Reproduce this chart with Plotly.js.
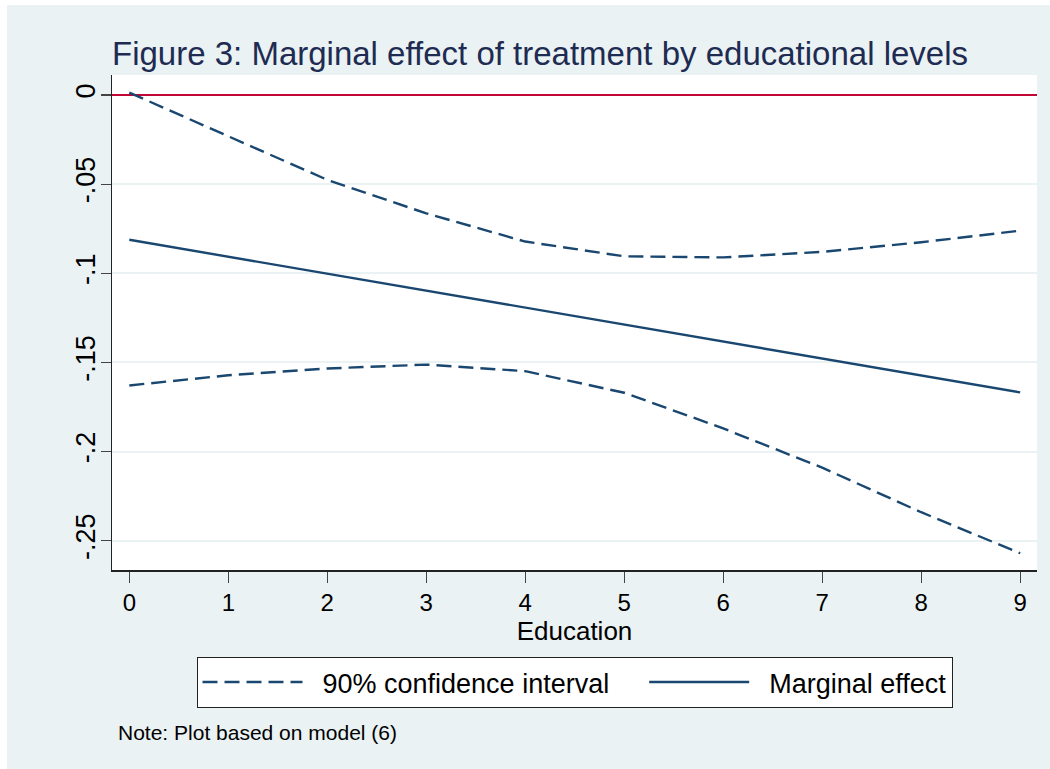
<!DOCTYPE html>
<html>
<head>
<meta charset="utf-8">
<script src="https://cdn.plot.ly/plotly-3.0.1.min.js"></script>
<style>
  html, body { margin: 0; padding: 0; background: #ffffff; }
  #chart { width: 1050px; height: 769px; }
</style>
</head>
<body>
<div id="chart"></div>
<script>
// ---- data ----
var education = [0, 1, 2, 3, 4, 5, 6, 7, 8, 9];
var ciUpper = [0.0013, -0.0233, -0.0476, -0.0664, -0.0822, -0.0905, -0.0911, -0.0880, -0.0826, -0.0761];
var ciLower = [-0.1629, -0.1572, -0.1534, -0.1512, -0.1549, -0.1670, -0.1870, -0.2090, -0.2340, -0.2570];
var marginalEffect = [-0.0812, -0.0907, -0.1002, -0.1097, -0.1192, -0.1288, -0.1383, -0.1478, -0.1573, -0.1668];
var yTickVals = [0, -0.05, -0.1, -0.15, -0.2, -0.25];
var yTickText = ["0", "-.05", "-.1", "-.15", "-.2", "-.25"];
var xTickVals = [0, 1, 2, 3, 4, 5, 6, 7, 8, 9];
var xTickText = ["0", "1", "2", "3", "4", "5", "6", "7", "8", "9"];
var seriesNames = ["90% confidence interval", "Marginal effect"];

var navy = '#1a476f';
var FONT = 'Liberation Sans, Arial, Helvetica, sans-serif';
var NB = '\u00a0';

var traces = [
  {
    x: education, y: ciUpper, type: 'scatter', mode: 'lines',
    name: NB + NB + seriesNames[0] + NB + NB + NB + NB, legendgroup: 'ci',
    line: { color: navy, width: 2.4, dash: '15px,7px' },
    hoverinfo: 'skip'
  },
  {
    x: education, y: ciLower, type: 'scatter', mode: 'lines',
    name: seriesNames[0], legendgroup: 'ci', showlegend: false,
    line: { color: navy, width: 2.4, dash: '15px,7px' },
    hoverinfo: 'skip'
  },
  {
    x: education, y: marginalEffect, type: 'scatter', mode: 'lines',
    name: NB + NB + seriesNames[1],
    line: { color: navy, width: 2.4 },
    hoverinfo: 'skip'
  }
];

var layout = {
  width: 1050, height: 769,
  paper_bgcolor: '#eaf2f3',
  plot_bgcolor: '#ffffff',
  margin: { l: 112, r: 13, t: 75, b: 199, pad: 0 },
  font: { family: FONT, color: '#000000', size: 22 },
  title: {
    text: 'Figure 3: Marginal effect of treatment by educational levels',
    font: { family: FONT, size: 33, color: '#1e2b52' },
    xref: 'paper', x: 0, xanchor: 'left',
    yref: 'container', y: 0.9309, yanchor: 'middle'
  },
  xaxis: {
    range: [-0.175, 9.17],
    tickmode: 'array', tickvals: xTickVals, ticktext: xTickText,
    ticks: 'outside', ticklen: 11, tickwidth: 1.2, tickcolor: '#444444',
    showline: true, linecolor: '#222222', linewidth: 1.5,
    showgrid: false, zeroline: false,
    tickfont: { family: FONT, size: 24, color: '#000000' },
    title: { text: 'Education', font: { family: FONT, size: 26, color: '#000000' }, standoff: 0 }
  },
  yaxis: {
    range: [-0.2664, 0.0112],
    tickmode: 'array', tickvals: yTickVals, ticktext: yTickText,
    ticks: 'outside', ticklen: 10, tickwidth: 1.2, tickcolor: '#444444',
    tickangle: -90, ticklabelstandoff: -5,
    showline: true, linecolor: '#222222', linewidth: 1.5,
    showgrid: true, gridcolor: '#eaf2f3', gridwidth: 2,
    zeroline: true, zerolinecolor: '#c10534', zerolinewidth: 2.6,
    tickfont: { family: FONT, size: 27, color: '#000000' }
  },
  showlegend: true,
  legend: {
    orientation: 'h',
    x: 0.5, xanchor: 'center',
    y: -0.1758, yanchor: 'top',
    bgcolor: '#ffffff', bordercolor: '#222222', borderwidth: 1,
    font: { family: FONT, size: 27, color: '#000000' },
    itemwidth: 100,
    traceorder: 'normal'
  },
  shapes: [
    { type: 'rect', xref: 'paper', yref: 'paper', x0: -0.2, x1: 1.1, y0: (570 - 5) / 495, y1: 1.3,
      fillcolor: '#ffffff', line: { width: 0 }, layer: 'above' },
    { type: 'rect', xref: 'paper', yref: 'paper', x0: -0.2, x1: (7 - 112) / 925, y0: -0.5, y1: 1.3,
      fillcolor: '#ffffff', line: { width: 0 }, layer: 'above' }
  ],
  annotations: [
    { text: 'Note: Plot based on model (6)', xref: 'paper', yref: 'paper',
      x: (116 - 112) / 925, xanchor: 'left', y: (570 - 732) / 495, yanchor: 'middle',
      showarrow: false, font: { family: FONT, size: 21, color: '#000000' } }
  ]
};

Plotly.newPlot('chart', traces, layout, { displayModeBar: false, staticPlot: true });
</script>
</body>
</html>
